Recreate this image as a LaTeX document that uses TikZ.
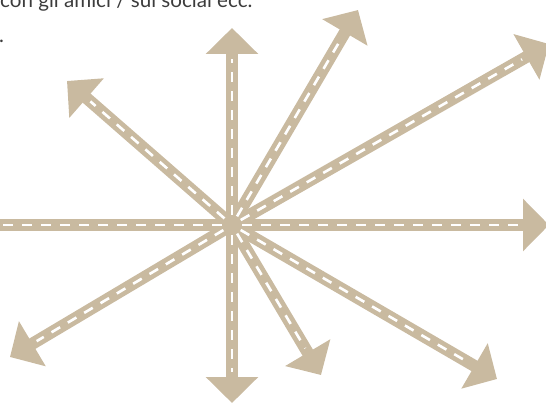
\documentclass[tikz,border=0pt]{standalone}
\usepackage{fontspec}
\setmainfont{Lato}
\usepackage{xcolor}
\usetikzlibrary{arrows.meta,calc}
\definecolor{sand}{RGB}{201,186,160}
\definecolor{ink}{RGB}{60,60,60}
\tikzset{
  shaft/.style = {color = sand, line width = 12pt, -{Triangle[length=26pt, width=51pt]}},
  lane/.style = {color = white, line width = 2.6pt, dash pattern = on 10pt off 9pt, shorten > = 31pt},
}
\begin{document}
\begin{tikzpicture}[x = 1pt, y = -1pt]
  \useasboundingbox (0,0) rectangle (546,404);
  \clip (0,0) rectangle (546,404);
  \node [anchor = base west, inner sep = 0, color = ink, font = \fontsize{20.6}{22}\selectfont] (note) at (0,8) {con gli amici / sul social ecc.};
  \node [anchor = base west, inner sep = 0, color = ink, font = \fontsize{20.6}{22}\selectfont] (dot) at (-1,43) {.};

  \coordinate (O) at (232,225);
  \coordinate (w) at (-10,225);
  \foreach \tx/\ty [count = \i] in {232/28, 232/403, 549/225, 67/81, 358/10, 549/44, 10/357, 321/375, 497/379}
    \coordinate (t\i) at (\tx,\ty);

  \draw [color = sand, line width = 12pt] (O) -- (w);
  \foreach \i in {1,...,9}
    \draw [shaft] (O) -- (t\i);

  \draw [lane, shorten > = 0pt] ($(O)!10pt!(w)$) -- (w);
  \foreach \i in {1,...,9}
    \draw [lane] ($(O)!10pt!(t\i)$) -- (t\i);
\end{tikzpicture}
\end{document}
